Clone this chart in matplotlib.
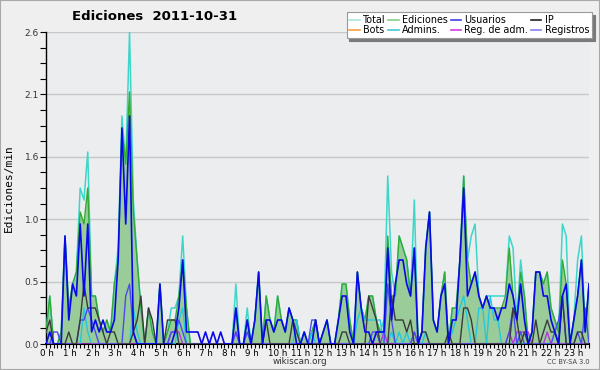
import numpy as np
import matplotlib
matplotlib.use("Agg")
import matplotlib.pyplot as plt
from matplotlib.lines import Line2D
from matplotlib.patches import Rectangle
from matplotlib.transforms import ScaledTranslation, blended_transform_factory

# ediciones por intervalo de 10 min (144 intervalos), se divide por 10 -> ediciones/min
ediciones = [1, 4, 0, 0, 1, 9, 3, 5, 6, 11, 10, 13,
             4, 4, 2, 1, 2, 1, 5, 7, 18, 15, 21, 11,
             7, 3, 0, 3, 1, 0, 5, 0, 1, 2, 2, 4,
             7, 3, 0, 0, 0, 0, 0, 0, 0, 0, 0, 0,
             0, 0, 3, 0, 0, 2, 0, 2, 6, 0, 4, 2,
             1, 4, 2, 1, 3, 2, 2, 0, 1, 0, 1, 2,
             0, 1, 2, 0, 0, 2, 5, 5, 2, 0, 6, 3,
             2, 4, 4, 2, 1, 1, 9, 4, 4, 9, 8, 7,
             4, 8, 0, 1, 8, 11, 2, 1, 4, 6, 0, 3,
             3, 7, 14, 7, 5, 6, 4, 3, 4, 3, 3, 3,
             3, 4, 8, 4, 2, 6, 4, 0, 1, 6, 6, 5,
             6, 3, 2, 1, 7, 5, 0, 2, 4, 7, 1, 5]
total = [1, 4, 0, 0, 1, 9, 3, 5, 6, 13, 12, 16,
         4, 4, 2, 1, 2, 1, 5, 8, 19, 15, 26, 12,
         7, 3, 0, 3, 1, 0, 5, 0, 1, 3, 3, 4,
         9, 3, 0, 0, 0, 0, 0, 0, 0, 0, 0, 0,
         0, 0, 5, 0, 0, 3, 0, 2, 6, 0, 4, 2,
         1, 4, 2, 1, 3, 2, 2, 0, 1, 0, 1, 2,
         0, 1, 2, 0, 0, 2, 5, 5, 2, 0, 6, 3,
         2, 4, 4, 2, 1, 2, 14, 6, 4, 9, 8, 7,
         4, 12, 0, 1, 8, 11, 2, 1, 4, 6, 0, 3,
         3, 7, 14, 7, 9, 10, 4, 3, 4, 4, 4, 4,
         4, 4, 9, 8, 2, 7, 4, 0, 1, 6, 6, 5,
         6, 3, 2, 1, 10, 9, 0, 2, 7, 9, 1, 5]
usuarios = [0, 1, 0, 0, 0, 9, 2, 5, 4, 10, 4, 10,
            1, 2, 1, 2, 1, 1, 2, 7, 18, 10, 19, 1,
            0, 0, 0, 0, 0, 0, 5, 0, 0, 0, 1, 3,
            7, 1, 1, 1, 1, 0, 1, 0, 1, 0, 1, 0,
            0, 0, 3, 0, 0, 2, 0, 2, 6, 0, 2, 2,
            1, 2, 2, 1, 3, 2, 0, 0, 1, 0, 0, 2,
            0, 1, 2, 0, 0, 2, 4, 4, 1, 0, 6, 3,
            1, 1, 0, 1, 1, 1, 8, 2, 5, 7, 7, 5,
            4, 8, 0, 1, 8, 11, 2, 1, 4, 5, 0, 2,
            2, 7, 13, 4, 5, 6, 4, 3, 4, 3, 3, 2,
            3, 3, 5, 4, 2, 5, 2, 0, 1, 6, 6, 4,
            4, 2, 1, 0, 4, 5, 0, 2, 4, 7, 1, 5]
ip = [1, 2, 0, 0, 0, 0, 1, 0, 0, 2, 5, 3,
      3, 3, 2, 1, 0, 1, 1, 0, 0, 0, 0, 1,
      2, 4, 0, 3, 2, 0, 0, 0, 2, 2, 2, 0,
      0, 0, 0, 0, 0, 0, 0, 0, 0, 0, 0, 0,
      0, 0, 0, 0, 0, 0, 0, 0, 0, 0, 2, 0,
      0, 0, 0, 0, 0, 2, 1, 0, 0, 0, 0, 0,
      0, 0, 0, 0, 0, 0, 1, 1, 0, 0, 0, 0,
      0, 4, 3, 2, 0, 0, 0, 4, 2, 2, 2, 1,
      2, 0, 0, 1, 1, 0, 0, 0, 0, 0, 1, 0,
      0, 0, 3, 3, 2, 0, 0, 0, 0, 0, 0, 0,
      0, 0, 0, 3, 2, 0, 1, 0, 0, 2, 0, 1,
      2, 1, 1, 0, 4, 0, 0, 0, 1, 1, 0, 0]
admins = [0, 0, 0, 0, 0, 0, 0, 0, 0, 0, 3, 1,
          0, 0, 0, 0, 0, 0, 0, 0, 0, 0, 0, 3,
          1, 0, 0, 0, 0, 0, 0, 0, 0, 0, 0, 2,
          3, 0, 0, 0, 0, 0, 0, 0, 0, 0, 0, 0,
          0, 0, 0, 0, 0, 0, 0, 0, 0, 0, 0, 0,
          0, 0, 0, 0, 0, 0, 2, 0, 0, 0, 1, 0,
          0, 0, 0, 0, 0, 0, 0, 0, 0, 0, 2, 3,
          2, 2, 2, 2, 2, 0, 0, 1, 0, 1, 0, 1,
          0, 1, 0, 0, 1, 0, 0, 0, 0, 0, 0, 1,
          2, 3, 4, 2, 0, 0, 3, 3, 0, 4, 2, 2,
          0, 0, 0, 0, 0, 0, 0, 0, 0, 0, 0, 0,
          0, 0, 0, 0, 0, 0, 0, 0, 0, 0, 0, 0]
reg_adm = [0, 0, 0, 0, 0, 0, 0, 0, 0, 0, 0, 0,
           0, 0, 0, 0, 0, 0, 0, 0, 0, 0, 0, 0,
           0, 0, 0, 0, 0, 0, 0, 0, 0, 1, 1, 1,
           0, 0, 0, 0, 0, 0, 0, 0, 0, 0, 0, 0,
           0, 0, 1, 0, 0, 0, 0, 0, 0, 0, 0, 0,
           0, 0, 0, 0, 0, 0, 0, 0, 0, 0, 0, 0,
           0, 0, 0, 0, 0, 0, 0, 0, 0, 0, 0, 0,
           0, 0, 0, 0, 0, 1, 0, 0, 0, 0, 0, 0,
           0, 1, 0, 0, 0, 0, 0, 0, 0, 0, 0, 0,
           0, 0, 0, 0, 0, 0, 0, 0, 0, 0, 0, 0,
           0, 0, 1, 0, 1, 1, 1, 1, 0, 0, 0, 0,
           1, 0, 0, 0, 0, 0, 0, 0, 0, 0, 0, 0]
registros = [0, 0, 1, 1, 0, 0, 0, 0, 0, 2, 2, 3,
             2, 1, 0, 0, 0, 0, 0, 0, 0, 4, 5, 1,
             0, 0, 0, 0, 0, 0, 0, 0, 0, 1, 1, 2,
             1, 0, 0, 0, 0, 0, 0, 0, 0, 0, 0, 0,
             0, 0, 1, 0, 0, 1, 0, 0, 0, 0, 0, 0,
             0, 0, 0, 0, 0, 0, 0, 0, 0, 0, 2, 2,
             0, 0, 0, 0, 0, 0, 0, 0, 0, 0, 0, 0,
             0, 0, 1, 1, 0, 0, 5, 2, 0, 0, 0, 0,
             0, 1, 0, 0, 0, 0, 0, 0, 0, 0, 0, 0,
             0, 0, 0, 0, 0, 0, 0, 0, 0, 0, 0, 0,
             0, 0, 1, 3, 0, 1, 0, 0, 0, 0, 0, 0,
             0, 0, 1, 2, 4, 0, 0, 0, 1, 0, 3, 0]
bots = [0] * 144

horas = [f"{h} h" for h in range(24)]

x = np.arange(144)
f = lambda a: np.array(a) / 10.0

fig = plt.figure(figsize=(6, 3.7), dpi=100, facecolor="#efefef")
fig.patches.append(Rectangle((0, 0), 1, 1, transform=fig.transFigure, fill=False,
                             edgecolor="#a8a8a8", lw=1.5))
ax = fig.add_axes([46/600, 1-344/370, 543/600, 312/370])
ax.set_facecolor("#ecedef")

ax.fill_between(x, f(ediciones), color="#9acc9a", lw=0, zorder=2)
ax.plot(x, f(total), color="#3ed6c8", lw=1.1, zorder=3)
ax.plot(x, f(ediciones), color="#33aa33", lw=1.0, zorder=3)
ax.plot(x, f(admins), color="#22c8e0", lw=1.0, zorder=4)
ax.plot(x, f(reg_adm), color="#bb33dd", lw=1.0, zorder=4)
ax.plot(x, f(registros), color="#4a4af0", lw=1.0, zorder=4)
ax.plot(x, f(ip), color="#3a3a3a", lw=1.0, zorder=5)
ax.plot(x, f(usuarios), color="#0808e8", lw=1.2, zorder=6)
if any(bots):
    ax.plot(x, f(bots), color="#ff9933", lw=1.0, zorder=4)

ax.set_xlim(0, 143)
ax.set_ylim(0, 2.6)
yt = np.linspace(0, 2.6, 6)
ax.set_yticks(yt)
ax.set_yticklabels([f"{v:.1f}" for v in yt], fontsize=6.5, color="#333")
ax.set_yticks(np.linspace(0, 2.6, 21), minor=True)
hticks = np.arange(0, 144, 6)
ax.set_xticks(hticks)
ax.set_xticklabels([])
ax.set_xticks(np.arange(144), minor=True)
# etiquetas de hora alineadas a la izquierda, un poco antes de la marca
tr = blended_transform_factory(ax.transData, ax.transAxes) + \
    ScaledTranslation(-6/100, -5/100, fig.dpi_scale_trans)
for t, lab in zip(hticks, horas):
    ax.text(t, 0, lab, transform=tr, fontsize=6.3, ha="left", va="top", clip_on=False)
ax.tick_params(axis="x", which="both", length=3, width=0.8, pad=0.5)
ax.tick_params(axis="y", which="both", length=4, width=0.8, pad=1)
ax.grid(axis="y", which="major", color="#c8c8c8", lw=1)
ax.set_axisbelow(True)
for s in ("top", "right"):
    ax.spines[s].set_visible(False)
ax.spines["left"].set_linewidth(1)
ax.spines["bottom"].set_linewidth(1.5)

ax.set_ylabel("Ediciones/min", family="DejaVu Sans Mono", fontsize=8, labelpad=8)
fig.text(155/600, 1-16/370, "Ediciones  2011-10-31", fontsize=9.5, fontweight="bold",
         ha="center", va="center")
fig.text(300/600, 1-362/370, "wikiscan.org", fontsize=6.3, ha="center", va="center", color="#333")
fig.text(590/600, 1-362/370, "CC BY-SA 3.0", fontsize=4.8, ha="right", va="center", color="#444")

names = ["Total", "Bots", "Ediciones", "Admins.", "Usuarios", "Reg. de adm.", "IP", "Registros"]
cols = ["#a8e6de", "#f5a040", "#88d088", "#40c8dc", "#4040e0", "#d040e0", "#222222", "#8080f0"]
handles = [Line2D([], [], color=c, lw=1.2) for c in cols]
leg = fig.legend(handles, names, ncol=4, loc="upper right", bbox_to_anchor=(592/600, 1-12/370),
                 fontsize=6.9, frameon=True, fancybox=False, edgecolor="#999999",
                 shadow={"color": "#7a7a7a", "alpha": 1}, handlelength=1.1, handletextpad=0.35,
                 columnspacing=0.25, labelspacing=0.05, borderpad=0.3, borderaxespad=0)
leg.get_frame().set_linewidth(0.8)

fig.savefig("out.png", dpi=100, facecolor=fig.get_facecolor())
